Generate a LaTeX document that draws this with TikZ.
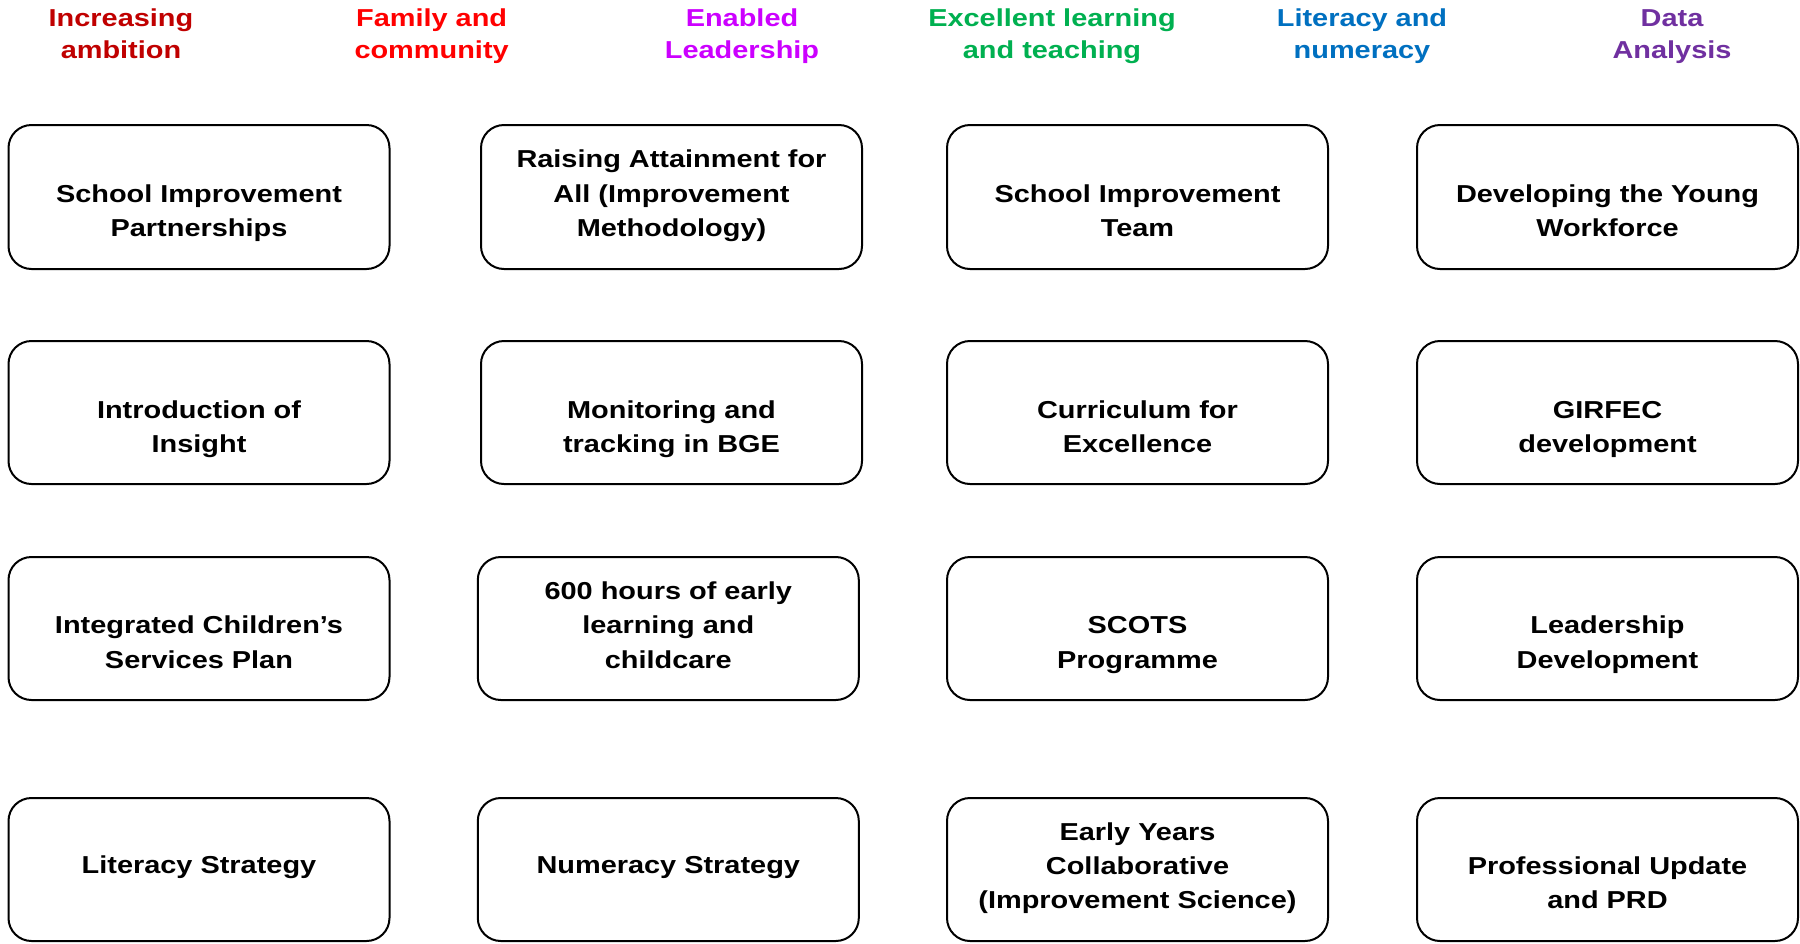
\documentclass[tikz,border=0pt]{standalone}
\usepackage{fontspec}
\setmainfont{Liberation Sans}
\newfontfamily\dfont[FakeStretch=1.18]{Liberation Sans}
\definecolor{cAmb}{HTML}{C00000}
\definecolor{cFam}{HTML}{FF0000}
\definecolor{cLead}{HTML}{CC00FF}
\definecolor{cLearn}{HTML}{00B050}
\definecolor{cLit}{HTML}{0070C0}
\definecolor{cData}{HTML}{7030A0}
\begin{document}
\begin{tikzpicture}[x=1pt,y=-1pt,
  box/.style={draw=black, line width=2pt, rounded corners=23pt, minimum width=381pt, minimum height=143pt, inner sep=0pt},
  lbl/.style={align=center, font=\dfont\bfseries\fontsize{24.5}{34.4}\selectfont, inner sep=0pt},
  hdr/.style={align=center, font=\dfont\bfseries\fontsize{24.5}{32}\selectfont, inner sep=0pt}]
\useasboundingbox[fill=white] (0,0) rectangle (1800,943);

% headers
\node[hdr, text=cAmb]   (h1) at (121,36.4)  {\strut Increasing\\\strut ambition};
\node[hdr, text=cFam]   (h2) at (431.6,36.4) {\strut Family and\\\strut community};
\node[hdr, text=cLead]  (h3) at (742,36.4)  {\strut Enabled\\\strut Leadership};
\node[hdr, text=cLearn] (h4) at (1052,36.4) {\strut Excellent learning\\\strut and teaching};
\node[hdr, text=cLit]   (h5) at (1362,36.4) {\strut Literacy and\\\strut numeracy};
\node[hdr, text=cData]  (h6) at (1672,36.4) {\strut Data\\\strut Analysis};

% boxes row 1
\node[box, minimum height=144pt] (b11) at (199,197) {};
\node[box, minimum height=144pt] (b12) at (671.5,197) {};
\node[box, minimum height=144pt] (b13) at (1137.5,197) {};
\node[box, minimum height=144pt] (b14) at (1607.5,197) {};
% row 2
\node[box] (b21) at (199,412.5) {};
\node[box] (b22) at (671.5,412.5) {};
\node[box] (b23) at (1137.5,412.5) {};
\node[box] (b24) at (1607.5,412.5) {};
% row 3
\node[box] (b31) at (199,628.5) {};
\node[box] (b32) at (668.3,628.5) {};
\node[box] (b33) at (1137.5,628.5) {};
\node[box] (b34) at (1607.5,628.5) {};
% row 4
\node[box] (b41) at (199,869.5) {};
\node[box] (b42) at (668.3,869.5) {};
\node[box] (b43) at (1137.5,869.5) {};
\node[box] (b44) at (1607.5,869.5) {};

% texts row 1
\node[lbl] (t11) at (199,212.7) {\strut School Improvement\\\strut Partnerships};
\node[lbl] (t12) at (671.5,195.5) {\strut Raising Attainment for\\\strut All (Improvement\\\strut Methodology)};
\node[lbl] (t13) at (1137.5,212.7) {\strut School Improvement\\\strut Team};
\node[lbl] (t14) at (1607.5,212.7) {\strut Developing the Young\\\strut Workforce};
% row 2
\node[lbl] (t21) at (199,428.5) {\strut Introduction of\\\strut Insight};
\node[lbl] (t22) at (671.5,428.5) {\strut Monitoring and\\\strut tracking in BGE};
\node[lbl] (t23) at (1137.5,428.5) {\strut Curriculum for\\\strut Excellence};
\node[lbl] (t24) at (1607.5,428.5) {\strut GIRFEC\\\strut development};
% row 3
\node[lbl] (t31) at (199,644.3) {\strut Integrated Children’s\\\strut Services Plan};
\node[lbl] (t32) at (668.3,627.1) {\strut 600 hours of early\\\strut learning and\\\strut childcare};
\node[lbl] (t33) at (1137.5,644.3) {\strut SCOTS\\\strut Programme};
\node[lbl] (t34) at (1607.5,644.3) {\strut Leadership\\\strut Development};
% row 4
\node[lbl] (t41) at (199,867) {\strut Literacy Strategy};
\node[lbl] (t42) at (668.3,867) {\strut Numeracy Strategy};
\node[lbl] (t43) at (1137.5,867.6) {\strut Early Years\\\strut Collaborative\\\strut (Improvement Science)};
\node[lbl] (t44) at (1607.5,884.6) {\strut Professional Update\\\strut and PRD};
\end{tikzpicture}
\end{document}
